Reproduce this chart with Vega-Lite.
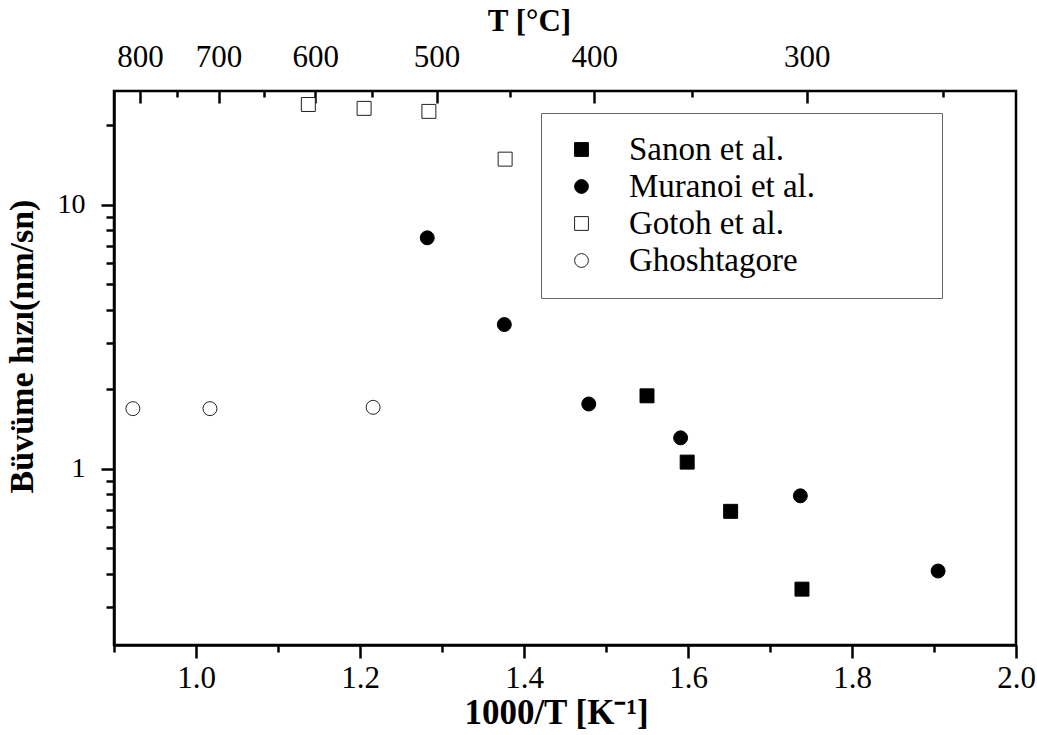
{
  "$schema": "https://vega.github.io/schema/vega-lite/v6.json",
  "width": 902,
  "height": 554,
  "autosize": {"type": "none"},
  "padding": {"left": 114, "top": 91, "right": 21, "bottom": 90},
  "background": "white",
  "config": {
    "view": {"stroke": "black", "strokeWidth": 2.5},
    "font": "Liberation Serif",
    "axis": {
      "domainColor": "black", "domainWidth": 2.5, "tickColor": "black", "tickWidth": 2.5,
      "labelFont": "Liberation Serif", "labelFontSize": 31, "labelColor": "black",
      "titleFont": "Liberation Serif", "titleFontSize": 33, "titleFontWeight": "bold", "titleColor": "black",
      "grid": false
    },
    "legend": {
      "title": null, "orient": "none", "legendX": 427, "legendY": 22,
      "labelFont": "Liberation Serif", "labelFontSize": 33, "labelColor": "black", "labelLimit": 500,
      "symbolSize": 190, "symbolStrokeWidth": 1,
      "padding": 20, "symbolOffset": 4, "labelOffset": 31, "rowPadding": 3,
      "strokeColor": "#666", "fillColor": "white"
    }
  },
  "data": {"values": [
    {"series": "Sanon et al.", "x": 1.550, "y": 1.89},
    {"series": "Sanon et al.", "x": 1.599, "y": 1.06},
    {"series": "Sanon et al.", "x": 1.652, "y": 0.69},
    {"series": "Sanon et al.", "x": 1.739, "y": 0.35},
    {"series": "Muranoi et al.", "x": 1.282, "y": 7.5},
    {"series": "Muranoi et al.", "x": 1.376, "y": 3.52},
    {"series": "Muranoi et al.", "x": 1.479, "y": 1.76},
    {"series": "Muranoi et al.", "x": 1.591, "y": 1.31},
    {"series": "Muranoi et al.", "x": 1.737, "y": 0.79},
    {"series": "Muranoi et al.", "x": 1.905, "y": 0.41},
    {"series": "Gotoh et al.", "x": 1.137, "y": 24.0},
    {"series": "Gotoh et al.", "x": 1.205, "y": 23.2},
    {"series": "Gotoh et al.", "x": 1.284, "y": 22.6},
    {"series": "Gotoh et al.", "x": 1.377, "y": 14.9},
    {"series": "Ghoshtagore", "x": 0.923, "y": 1.69},
    {"series": "Ghoshtagore", "x": 1.017, "y": 1.69},
    {"series": "Ghoshtagore", "x": 1.216, "y": 1.71}
  ]},
  "resolve": {"axis": {"x": "independent"}},
  "layer": [
    {
      "mark": {"type": "point", "strokeWidth": 1, "opacity": 1, "size": 195},
      "encoding": {
        "x": {
          "field": "x", "type": "quantitative",
          "scale": {"domain": [0.9, 2.0], "nice": false, "zero": false},
          "axis": {
            "orient": "bottom", "title": "1000/T [K⁻¹]", "titleFontSize": 35, "titleX": 442,
            "values": [0.9, 1.0, 1.1, 1.2, 1.3, 1.4, 1.5, 1.6, 1.7, 1.8, 1.9, 2.0],
            "labelExpr": "(round(datum.value*10) % 2 == 0) ? format(datum.value, '.1f') : ''",
            "tickSize": {"condition": {"test": "round(datum.value*10) % 2 == 0", "value": 13}, "value": 7},
            "labelPadding": 5, "titlePadding": 2, "labelFlush": false
          }
        },
        "y": {
          "field": "y", "type": "quantitative",
          "scale": {"type": "log", "domain": [0.215, 27], "nice": false},
          "axis": {
            "title": "Büvüme hızı(nm/sn)", "titleFontSize": 34, "titleY": 255,
            "values": [0.3, 0.4, 0.5, 0.6, 0.7, 0.8, 0.9, 1, 2, 3, 4, 5, 6, 7, 8, 9, 10, 20],
            "labelExpr": "(datum.value == 1 || datum.value == 10) ? datum.value : ''",
            "labelFontSize": 28,
            "tickSize": {"condition": {"test": "datum.value == 1 || datum.value == 10", "value": 13}, "value": 8},
            "labelPadding": 16, "titlePadding": 18
          }
        },
        "shape": {
          "field": "series", "type": "nominal",
          "scale": {"domain": ["Sanon et al.", "Muranoi et al.", "Gotoh et al.", "Ghoshtagore"], "range": ["square", "circle", "square", "circle"]},
          "legend": {
            "labelExpr": "datum.label == 'Ghoshtagore' ? 'Ghoshtagore\u00a0\u00a0\u00a0\u00a0\u00a0\u00a0\u00a0\u00a0\u00a0\u00a0\u00a0\u00a0\u00a0\u00a0\u00a0\u200b' : datum.label"
          }
        },
        "fill": {
          "field": "series", "type": "nominal",
          "scale": {"domain": ["Sanon et al.", "Muranoi et al.", "Gotoh et al.", "Ghoshtagore"], "range": ["black", "black", "white", "white"]},
          "legend": {
            "labelExpr": "datum.label == 'Ghoshtagore' ? 'Ghoshtagore\u00a0\u00a0\u00a0\u00a0\u00a0\u00a0\u00a0\u00a0\u00a0\u00a0\u00a0\u00a0\u00a0\u00a0\u00a0\u200b' : datum.label"
          }
        },
        "stroke": {
          "field": "series", "type": "nominal",
          "scale": {"domain": ["Sanon et al.", "Muranoi et al.", "Gotoh et al.", "Ghoshtagore"], "range": ["black", "black", "#222", "#222"]},
          "legend": {
            "labelExpr": "datum.label == 'Ghoshtagore' ? 'Ghoshtagore\u00a0\u00a0\u00a0\u00a0\u00a0\u00a0\u00a0\u00a0\u00a0\u00a0\u00a0\u00a0\u00a0\u00a0\u00a0\u200b' : datum.label"
          }
        }
      }
    },
    {
      "mark": {"type": "point", "opacity": 0},
      "encoding": {
        "x": {
          "field": "x", "type": "quantitative",
          "scale": {"domain": [0.9, 2.0], "nice": false, "zero": false},
          "axis": {
            "orient": "top", "title": "T [°C]", "titleFontSize": 31, "titleX": 415,
            "values": [0.93184, 0.97737, 1.02759, 1.08325, 1.14528, 1.21485, 1.29341, 1.38284, 1.48555, 1.60475, 1.74474, 1.9115],
            "labelExpr": "(round(1000/datum.value - 273.15) % 100 == 0) ? round(1000/datum.value - 273.15) : ''",
            "tickSize": {"condition": {"test": "round(1000/datum.value - 273.15) % 100 == 0", "value": -12}, "value": -6},
            "labelPadding": 30, "titlePadding": 4, "domain": false
          }
        },
        "y": {"field": "y", "type": "quantitative"}
      }
    }
  ]
}
